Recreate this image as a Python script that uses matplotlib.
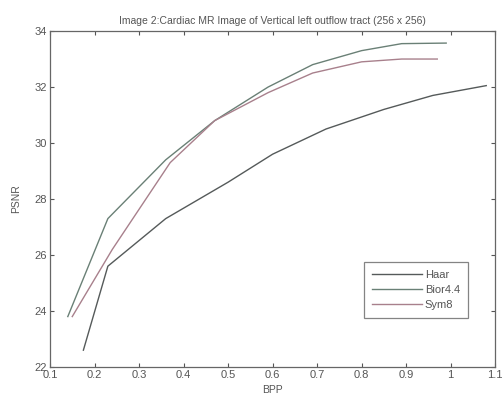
import matplotlib
matplotlib.use("Agg")
import matplotlib.pyplot as plt

haar_x = [0.175, 0.23, 0.36, 0.50, 0.60, 0.72, 0.85, 0.96, 1.08]
haar_y = [22.6, 25.6, 27.3, 28.6, 29.6, 30.5, 31.2, 31.7, 32.05]
bior_x = [0.14, 0.23, 0.36, 0.47, 0.59, 0.69, 0.80, 0.89, 0.99]
bior_y = [23.8, 27.3, 29.4, 30.8, 32.0, 32.8, 33.3, 33.55, 33.57]
sym_x = [0.15, 0.24, 0.37, 0.47, 0.59, 0.69, 0.80, 0.89, 0.97]
sym_y = [23.8, 26.2, 29.3, 30.8, 31.8, 32.5, 32.9, 33.0, 33.0]

xticks = [0.1, 0.2, 0.3, 0.4, 0.5, 0.6, 0.7, 0.8, 0.9, 1, 1.1]
xticklabels = ["0.1", "0.2", "0.3", "0.4", "0.5", "0.6", "0.7", "0.8", "0.9", "1", "1.1"]
yticks = [22, 24, 26, 28, 30, 32, 34]

txt = "#555555"
plt.rcParams['font.family'] = ['Liberation Sans', 'DejaVu Sans']
fig = plt.figure(figsize=(5.03, 3.98), dpi=100)
ax = fig.add_axes([0.0994, 0.078, 0.885, 0.844])

ax.plot(haar_x, haar_y, color="#555a5a", lw=1.0, label="Haar")
ax.plot(bior_x, bior_y, color="#6a8076", lw=1.0, label="Bior4.4")
ax.plot(sym_x, sym_y, color="#a8808c", lw=1.0, label="Sym8")

ax.set_xlim(0.1, 1.1)
ax.set_ylim(22, 34)
ax.set_xticks(xticks)
ax.set_xticklabels(xticklabels)
ax.set_yticks(yticks)
ax.tick_params(direction="in", top=True, right=True, labelsize=8, colors=txt, length=3, pad=2)
for s in ax.spines.values():
    s.set_color("#666666")
    s.set_linewidth(0.9)

ax.set_title("Image 2:Cardiac MR Image of Vertical left outflow tract (256 x 256)", fontsize=7.5, color=txt, pad=5)
ax.set_xlabel("BPP", fontsize=7.5, color=txt, labelpad=4)
ax.set_ylabel("PSNR", fontsize=7.5, color=txt, labelpad=10)

leg = ax.legend(loc="lower right", bbox_to_anchor=(0.951, 0.13), fontsize=8, frameon=True, fancybox=False,
                edgecolor="#666666", handlelength=4.5, borderpad=0.7, labelspacing=0.45, handletextpad=0.3)
leg.get_frame().set_linewidth(0.9)
for t in leg.get_texts():
    t.set_color(txt)

fig.savefig("out.png", dpi=100)
